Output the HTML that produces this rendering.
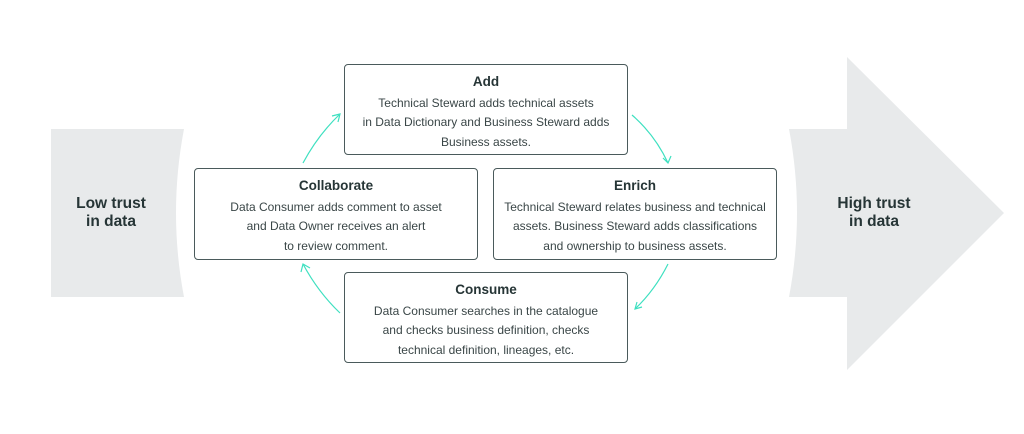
<!DOCTYPE html>
<html><head><meta charset="utf-8"><style>
body{margin:0;width:1024px;height:434px;background:#fff;position:relative;overflow:hidden;font-family:"Liberation Sans",sans-serif;color:#2f3d3e}
.box{position:absolute;border:1.5px solid #4a5a5b;border-radius:4px;text-align:center;box-sizing:border-box}
.box b{display:block;font-size:13.5px;margin-top:8px;line-height:18px;color:#263536}
.box p{margin:3px 0 0;font-size:12px;line-height:19.3px;color:#3a4647}
.lbl{position:absolute;font-weight:bold;font-size:15.5px;line-height:18px;text-align:center;color:#263536}
</style></head><body>
<svg width="1024" height="434" style="position:absolute;left:0;top:0">
<path d="M51 129 H184 Q168 213 184 297 H51 Z" fill="#e8eaeb"/>
<path d="M789 129 H847 V57 L1004 213 L847 370 V297 H789 Q805 213 789 129 Z" fill="#e8eaeb"/>
<g fill="none" stroke="#3ee0c0" stroke-width="1.2">
<path d="M303 163 Q318 135 340 114"/><path d="M332 116 L340 114 L338 122"/>
<path d="M632 115 Q655 135 668 163"/><path d="M663 158 L668 163 L671 156"/>
<path d="M668 264 Q655 290 635 309"/><path d="M637 302 L635 309 L642 307"/>
<path d="M340 313 Q318 292 303 264"/><path d="M301 272 L303 264 L310 268"/>
</g>
</svg>
<div class="lbl" style="left:51px;width:120px;top:195px">Low trust<br>in data</div>
<div class="lbl" style="left:820px;width:108px;top:195px">High trust<br>in data</div>
<div class="box" style="left:344px;top:64px;width:284px;height:91px"><b>Add</b><p>Technical Steward adds technical assets<br>in Data Dictionary and Business Steward adds<br>Business assets.</p></div>
<div class="box" style="left:194px;top:168px;width:284px;height:92px"><b>Collaborate</b><p>Data Consumer adds comment to asset<br>and Data Owner receives an alert<br>to review comment.</p></div>
<div class="box" style="left:493px;top:168px;width:284px;height:92px"><b>Enrich</b><p>Technical Steward relates business and technical<br>assets. Business Steward adds classifications<br>and ownership to business assets.</p></div>
<div class="box" style="left:344px;top:272px;width:284px;height:91px"><b>Consume</b><p>Data Consumer searches in the catalogue<br>and checks business definition, checks<br>technical definition, lineages, etc.</p></div>
</body></html>
